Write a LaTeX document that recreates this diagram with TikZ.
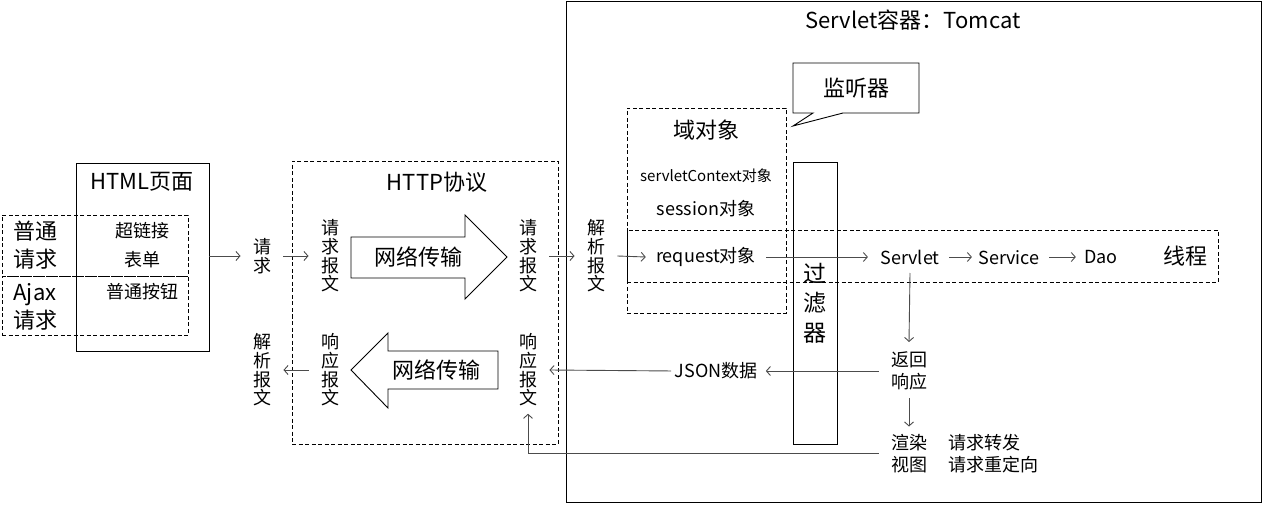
\documentclass[tikz,border=0pt]{standalone}
\usepackage{fontspec}
\setmainfont{Noto Sans CJK SC}
\usetikzlibrary{arrows.meta}
\begin{document}
\begin{tikzpicture}[x=1pt,y=-1pt,line width=0.9pt,
  big/.style={font=\fontsize{22}{28}\selectfont,inner sep=0pt,align=center},
  mid/.style={font=\fontsize{18}{22}\selectfont,inner sep=0pt,align=center},
  vt/.style={font=\fontsize{18}{18.7}\selectfont,align=center,inner xsep=12pt,inner ysep=0pt},
  arr/.style={draw=black!70,line width=0.9pt,-{Straight Barb[length=4pt,width=9pt]}},
  dsh/.style={draw,dash pattern=on 4pt off 2.5pt,line width=0.9pt,inner sep=0pt},
  box/.style={draw,inner sep=0pt,line width=0.9pt}]
\useasboundingbox (0,0) rectangle (1263,505);
\fill[white] (0,0) rectangle (1263,505);

% Servlet container
\node[box,minimum width=695pt,minimum height=501pt] (tomcat) at (913.5,251.5) {};
\node[big] (tomcatt) at (913,20) {Servlet容器：Tomcat};

% HTML page
\node[box,minimum width=133pt,minimum height=188pt] (html) at (142.5,257) {};
\node[big] (htmlt) at (142,182) {HTML页面};
\node[dsh,minimum width=186pt,minimum height=61pt] (normal) at (95,245.5) {};
\node[dsh,minimum width=186pt,minimum height=59pt] (ajax) at (95,305.5) {};
\node[big] (normalt) at (35,245) {普通\\请求};
\node[big] (ajaxt) at (35,307) {Ajax\\请求};
\node[mid] (link) at (142,231) {超链接};
\node[mid] (form) at (142,260) {表单};
\node[mid] (btn) at (142,292) {普通按钮};

% left side texts
\node[vt] (req) at (262,256) {请\\求};
\node[vt] (parse1) at (262,370) {解\\析\\报\\文};

% HTTP protocol
\node[dsh,minimum width=266pt,minimum height=283pt] (http) at (425,302.5) {};
\node[big] (httpt) at (437,182) {HTTP协议};
\node[vt] (reqmsg1) at (330,256) {请\\求\\报\\文};
\node[vt] (reqmsg2) at (528,256) {请\\求\\报\\文};
\node[vt] (resmsg1) at (330,370) {响\\应\\报\\文};
\node[vt] (resmsg2) at (528,370) {响\\应\\报\\文};
\draw (351,237) -- (465,237) -- (465,215) -- (507,257) -- (465,299) -- (465,278) -- (351,278) -- cycle;
\draw (351,370) -- (388,333) -- (388,351) -- (498,351) -- (498,389) -- (388,389) -- (388,408) -- cycle;
\node[big] (net1) at (418,257) {网络传输};
\node[big] (net2) at (436,370) {网络传输};

% parse
\node[vt] (parse2) at (596,256) {解\\析\\报\\文};

% listener callout
\draw (793,63) -- (919,63) -- (919,113) -- (843,113) -- (793,126) -- (813,113) -- (793,113) -- cycle;
\node[big] (listen) at (856,88) {监听器};

% domain objects
\node[dsh,minimum width=159pt,minimum height=205pt] (domain) at (706.5,210.5) {};
\node[big] (domaint) at (706,130) {域对象};
\node[font=\fontsize{15}{18}\selectfont,inner sep=0pt] (ctx) at (706,176) {servletContext对象};
\node[mid] (sess) at (706,209) {session对象};
\node[mid] (reqobj) at (706,257) {request对象};

% thread
\node[dsh,minimum width=591pt,minimum height=52pt] (thread) at (922.5,256) {};
\node[big] (threadt) at (1185,256) {线程};
\node[mid] (servlet) at (910,257) {Servlet};
\node[mid] (service) at (1009,258) {Service};
\node[mid] (dao) at (1101,257) {Dao};

% filter
\node[box,minimum width=44pt,minimum height=282pt] (filter) at (815,303) {};
\node[font=\fontsize{23}{29.5}\selectfont,inner sep=0pt,align=center] (filtert) at (815,303) {过\\滤\\器};

% response
\node[mid] (ret) at (909,371) {返回\\响应};
\node[mid] (render) at (909,453.5) {渲染\\视图};
\node[mid,anchor=west,align=left] (fwd) at (948,453.5) {请求转发\\请求重定向};
\node[mid] (json) at (716,371) {JSON数据};

% connectors
\draw[arr,shorten <=0pt] (html.east |- req) -- (req.west);
\draw[arr] (req.east) -- (reqmsg1.west);
\draw[arr] (reqmsg2.east) -- (parse2.west);
\draw[arr] (parse2.east) -- ([xshift=-10pt]reqobj.west);
\draw[arr,shorten <=10pt,shorten >=12pt] (reqobj.east) -- (servlet.west);
\draw[arr,shorten <=9pt,shorten >=6pt] (servlet.east) -- (service.west |- servlet);
\draw[arr,shorten <=9pt,shorten >=8pt] (service.east |- dao) -- (dao.west);
\draw[arr] ([yshift=-16pt]servlet.center) -- ([yshift=29pt]ret.center);
\draw[arr] ([yshift=-27pt]ret.center) -- ([yshift=27pt]render.center);
\draw[arr,shorten <=12pt,shorten >=8pt] (ret.west) -- (json.east);
\draw[arr,shorten <=3pt] (json.west) -- (resmsg2.east);
\draw[arr] (resmsg1.west) -- (parse1.east);
\draw[arr,shorten <=12pt,shorten >=7pt] (render.west) -- (render.west -| resmsg2) -- (resmsg2.south);
\end{tikzpicture}
\end{document}
